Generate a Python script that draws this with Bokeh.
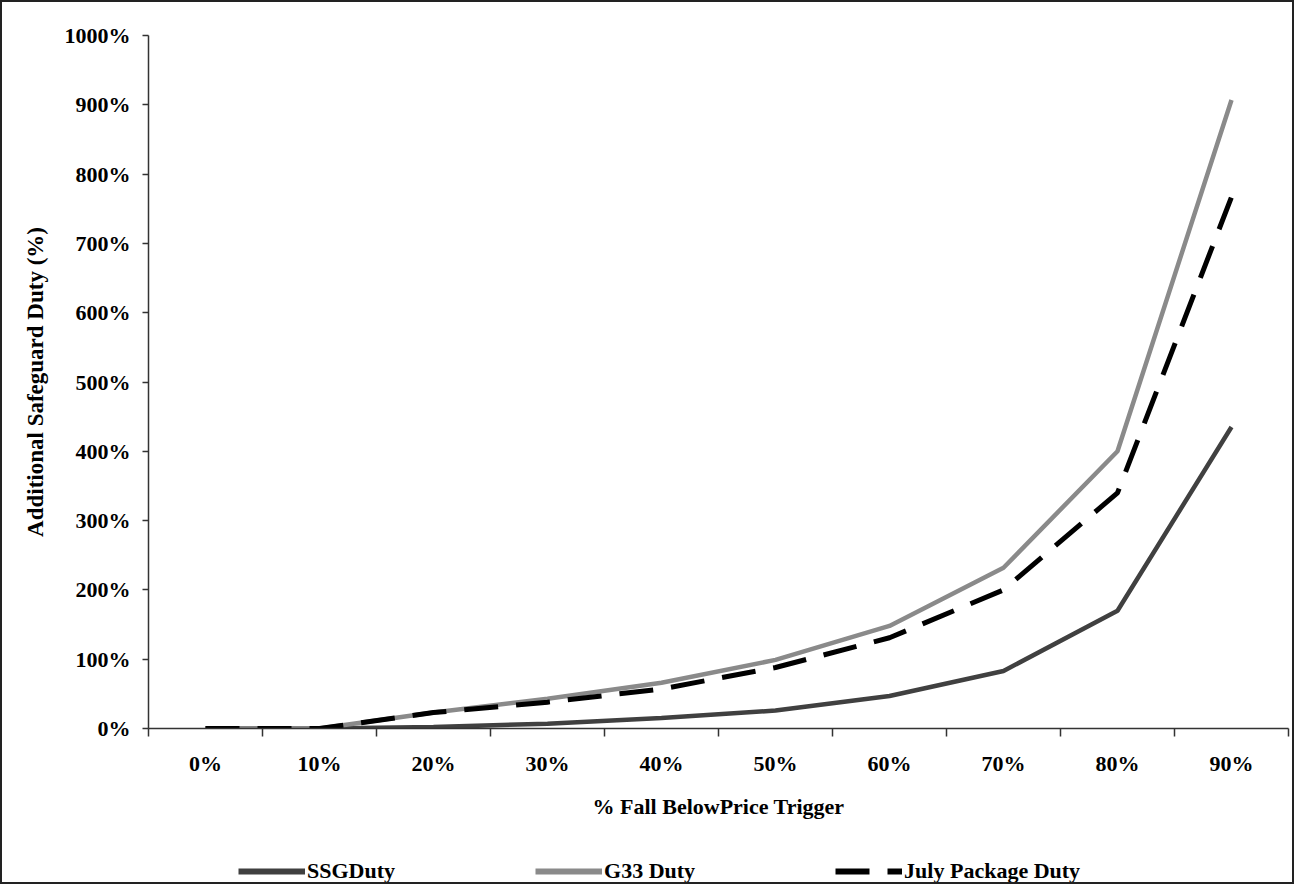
from bokeh.plotting import figure
from bokeh.layouts import column
from bokeh.models import FixedTicker, PrintfTickFormatter, Legend, LegendItem, Range1d
from bokeh.embed import file_html
from bokeh.resources import INLINE

categories = ["0%", "10%", "20%", "30%", "40%", "50%", "60%", "70%", "80%", "90%"]
ssg_duty = [0, 0, 2, 7, 15, 26, 47, 83, 170, 435]
g33_duty = [0, 0, 23, 43, 66, 99, 148, 232, 400, 907]
july_duty = [0, 0, 23, 38, 57, 88, 131, 200, 340, 767]
y_tick_values = [0, 100, 200, 300, 400, 500, 600, 700, 800, 900, 1000]
series_names = ["SSGDuty", "G33 Duty", "July Package Duty"]

n = len(categories)
xc = [i + 0.5 for i in range(n)]

FONT = "Liberation Serif"
SSG_COLOR, G33_COLOR, JULY_COLOR = "#404040", "#8a8a8a", "black"
JULY_DASH = "34 18"

p = figure(width=1290, height=824, output_backend="svg", toolbar_location=None,
           x_range=Range1d(0, n), y_range=Range1d(0, 1000),
           min_border_left=146, min_border_right=4, min_border_top=33,
           min_border_bottom=98)
p.xgrid.visible = False
p.ygrid.visible = False
p.outline_line_color = None
p.background_fill_color = "white"
p.border_fill_color = "white"

# x axis: ticks at category boundaries, labels at category centres
xa = p.xaxis[0]
xa.ticker = FixedTicker(ticks=xc, minor_ticks=list(range(n + 1)))
xa.major_label_overrides = {v: c for v, c in zip(xc, categories)}
xa.major_tick_in = 0
xa.major_tick_out = 0
xa.minor_tick_in = 0
xa.minor_tick_out = 8
xa.minor_tick_line_color = "#333333"
xa.minor_tick_line_width = 1.5
xa.axis_line_color = "#333333"
xa.axis_line_width = 1.5
xa.major_label_text_font = FONT
xa.major_label_text_font_style = "bold"
xa.major_label_text_font_size = "22px"
xa.major_label_text_color = "black"
xa.major_label_standoff = 14
xa.axis_label = "% Fall BelowPrice Trigger"
xa.axis_label_text_font = FONT
xa.axis_label_text_font_style = "bold"
xa.axis_label_text_font_size = "22px"
xa.axis_label_text_color = "black"
xa.axis_label_standoff = 15

ya = p.yaxis[0]
ya.ticker = FixedTicker(ticks=y_tick_values, minor_ticks=[])
ya.formatter = PrintfTickFormatter(format="%d%%")
ya.major_tick_in = 0
ya.major_tick_out = 6
ya.major_tick_line_color = "#333333"
ya.major_tick_line_width = 1.5
ya.axis_line_color = "#333333"
ya.axis_line_width = 1.5
ya.major_label_text_font = FONT
ya.major_label_text_font_style = "bold"
ya.major_label_text_font_size = "22px"
ya.major_label_text_color = "black"
ya.major_label_standoff = 12
ya.axis_label = "Additional Safeguard Duty (%)"
ya.axis_label_text_font = FONT
ya.axis_label_text_font_style = "bold"
ya.axis_label_text_font_size = "23px"
ya.axis_label_text_color = "black"
ya.axis_label_standoff = 14

p.line(xc, ssg_duty, line_color=SSG_COLOR, line_width=4.5)
p.line(xc, g33_duty, line_color=G33_COLOR, line_width=4.5)
p.line(xc, july_duty, line_color=JULY_COLOR, line_width=5, line_dash=JULY_DASH)

# legend strip below the chart (its lines lie outside its own visible range)
q = figure(width=1290, height=56, output_backend="svg", toolbar_location=None,
           x_range=Range1d(0, n), y_range=Range1d(-2, -1),
           min_border_left=0, min_border_right=0, min_border_top=0, min_border_bottom=0)
q.axis.visible = False
q.grid.visible = False
q.outline_line_color = None
q.background_fill_color = "white"
q.border_fill_color = "white"
lg_ssg = q.line(xc, ssg_duty, line_color=SSG_COLOR, line_width=6)
lg_g33 = q.line(xc, g33_duty, line_color=G33_COLOR, line_width=6)
lg_july = q.line(xc, july_duty, line_color=JULY_COLOR, line_width=6, line_dash=JULY_DASH)

legend = Legend(items=[LegendItem(label=series_names[0], renderers=[lg_ssg]),
                       LegendItem(label=series_names[1], renderers=[lg_g33]),
                       LegendItem(label=series_names[2], renderers=[lg_july])],
                location=(90, -2), orientation="horizontal",
                border_line_color=None, background_fill_alpha=0,
                padding=0, margin=0, spacing=140,
                glyph_width=67, glyph_height=20, label_height=20, label_standoff=2,
                label_text_font=FONT, label_text_font_style="bold",
                label_text_font_size="22px", label_text_color="black")
q.add_layout(legend, "center")

layout = column(p, q, spacing=0, styles={"border": "2px solid #222"})

open("out.html", "w").write(file_html(layout, INLINE))
